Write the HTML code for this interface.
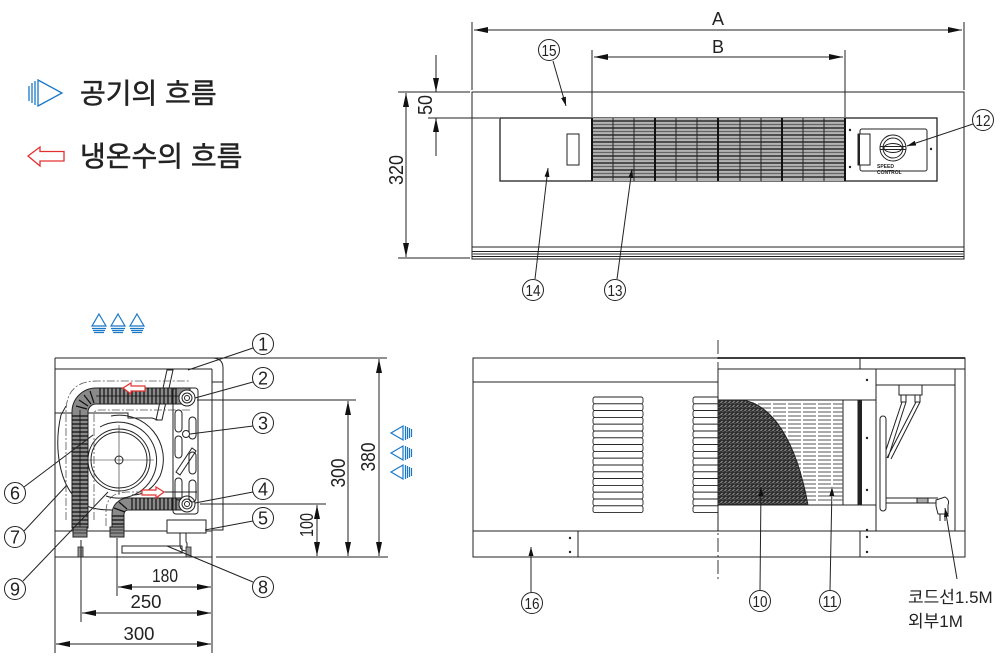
<!DOCTYPE html>
<html><head><meta charset="utf-8"><style>
html,body{margin:0;padding:0;background:#fff;}
svg{display:block;}
text{font-family:"Liberation Sans","Noto Sans CJK KR",sans-serif;fill:#222;}
</style></head><body>
<svg width="1000" height="660" viewBox="0 0 1000 660" xmlns="http://www.w3.org/2000/svg">
<defs>
<marker id="ar" markerWidth="14" markerHeight="6" refX="14" refY="3" orient="auto-start-reverse" markerUnits="userSpaceOnUse"><path d="M0,0 L14,3 L0,6 Z" fill="#111"/></marker>
<marker id="la" markerWidth="9" markerHeight="5" refX="9" refY="2.5" orient="auto" markerUnits="userSpaceOnUse"><path d="M0,0 L9,2.5 L0,5 Z" fill="#111"/></marker>
<pattern id="hx" width="4" height="4" patternUnits="userSpaceOnUse"><rect width="4" height="4" fill="#2e2e2e"/><path d="M0.5,3 L2.5,1" stroke="#bbb" stroke-width="0.8"/><path d="M2.5,4 L3.5,3" stroke="#888" stroke-width="0.6"/></pattern>
</defs>

<!-- ===== Legend ===== -->
<g stroke="#1a78c8" stroke-width="1.3" fill="none">
<line x1="29" y1="86" x2="29" y2="101"/><line x1="32" y1="83" x2="32" y2="103"/><line x1="35" y1="81" x2="35" y2="105"/>
<path d="M38,80 L62,93 L38,106 Z"/>
</g>
<text x="80" y="103" font-size="28" stroke="#222" stroke-width="0.5">공기의 흐름</text>
<path d="M28,156 L40,147 L40,151.5 L64,151.5 L64,161 L40,161 L40,166 Z" fill="none" stroke="#e53030" stroke-width="1.3"/>
<text x="80" y="166" font-size="28" stroke="#222" stroke-width="0.5">냉온수의 흐름</text>

<!-- ===== Top view ===== -->
<g stroke="#222" stroke-width="1" fill="none">
<line x1="472" y1="22" x2="472" y2="90"/>
<line x1="964" y1="22" x2="964" y2="90"/>
<line x1="474" y1="30" x2="962" y2="30" marker-start="url(#ar)" marker-end="url(#ar)"/>
<line x1="592" y1="50" x2="592" y2="117"/>
<line x1="845" y1="50" x2="845" y2="117"/>
<line x1="594" y1="57" x2="843" y2="57" marker-start="url(#ar)" marker-end="url(#ar)"/>
<line x1="398" y1="92" x2="470" y2="92"/>
<line x1="398" y1="258" x2="470" y2="258"/>
<line x1="406" y1="93" x2="406" y2="257" marker-start="url(#ar)" marker-end="url(#ar)"/>
<line x1="436" y1="55" x2="436" y2="92" marker-end="url(#ar)"/>
<line x1="436" y1="156" x2="436" y2="118" marker-end="url(#ar)"/>
<line x1="428" y1="118" x2="499" y2="118"/>
<path d="M472,92 H964 V259 H472 Z"/>
<line x1="472" y1="247" x2="964" y2="247"/>
<line x1="472" y1="251.5" x2="964" y2="251.5"/>
<line x1="472" y1="254" x2="964" y2="254" stroke="#777" stroke-width="1.6"/>
<line x1="472" y1="256.5" x2="964" y2="256.5"/>
<rect x="500" y="118" width="437" height="63" stroke-width="1.3"/>
<rect x="567" y="134" width="12" height="31"/>
</g>
<!-- grille -->
<g>
<rect x="592" y="118" width="253" height="63" fill="#b4b4b4"/>
<g stroke-width="1.2">
<line x1="592" x2="845" y1="121" y2="121" stroke="#111"/>
<line x1="592" x2="845" y1="124.5" y2="124.5" stroke="#666"/>
<line x1="592" x2="845" y1="128" y2="128" stroke="#111"/>
<line x1="592" x2="845" y1="131.5" y2="131.5" stroke="#666"/>
<line x1="592" x2="845" y1="135" y2="135" stroke="#111"/>
<line x1="592" x2="845" y1="138.5" y2="138.5" stroke="#666"/>
<line x1="592" x2="845" y1="142" y2="142" stroke="#111"/>
<line x1="592" x2="845" y1="145.5" y2="145.5" stroke="#666"/>
<line x1="592" x2="845" y1="149" y2="149" stroke="#111"/>
<line x1="592" x2="845" y1="152.5" y2="152.5" stroke="#666"/>
<line x1="592" x2="845" y1="156" y2="156" stroke="#111"/>
<line x1="592" x2="845" y1="159.5" y2="159.5" stroke="#666"/>
<line x1="592" x2="845" y1="163" y2="163" stroke="#111"/>
<line x1="592" x2="845" y1="166.5" y2="166.5" stroke="#666"/>
<line x1="592" x2="845" y1="170" y2="170" stroke="#111"/>
<line x1="592" x2="845" y1="173.5" y2="173.5" stroke="#666"/>
<line x1="592" x2="845" y1="177" y2="177" stroke="#111"/>
</g>
<g stroke="#222" stroke-width="1">
<line x1="613" y1="118" x2="613" y2="181"/><line x1="634" y1="118" x2="634" y2="181"/>
<line x1="676" y1="118" x2="676" y2="181"/><line x1="697" y1="118" x2="697" y2="181"/>
<line x1="740" y1="118" x2="740" y2="181"/><line x1="761" y1="118" x2="761" y2="181"/>
<line x1="803" y1="118" x2="803" y2="181"/><line x1="824" y1="118" x2="824" y2="181"/>
</g>
<g stroke="#111" stroke-width="2">
<line x1="592" y1="118" x2="592" y2="181"/><line x1="655" y1="118" x2="655" y2="181"/>
<line x1="718" y1="118" x2="718" y2="181"/><line x1="782" y1="118" x2="782" y2="181"/>
<line x1="845" y1="118" x2="845" y2="181"/>
</g>
</g>
<!-- control -->
<g stroke="#222" stroke-width="1" fill="none">
<rect x="860" y="129" width="67" height="42" rx="2"/>
<rect x="858" y="134" width="12" height="31" fill="#fff"/>
<line x1="859" y1="134" x2="859" y2="165" stroke-width="2"/>
<circle cx="893" cy="148" r="13"/>
<circle cx="893" cy="148" r="10"/>
<ellipse cx="893" cy="148" rx="9" ry="4.5"/>
<line x1="880" y1="146.5" x2="906" y2="146.5"/>
<line x1="880" y1="149.5" x2="906" y2="149.5"/>
</g>
<g fill="#222"><circle cx="850" cy="130" r="1.2"/><circle cx="850" cy="167" r="1.2"/><circle cx="931" cy="149" r="1.2"/></g>
<text x="877" y="168" font-size="5" font-weight="bold">SPEED</text>
<text x="877" y="174" font-size="5" font-weight="bold">CONTROL</text>
<g stroke="#222" stroke-width="1" fill="none">
<line x1="553" y1="61" x2="566" y2="106" marker-end="url(#la)"/>
<line x1="535" y1="279" x2="548" y2="168" marker-end="url(#la)"/>
<line x1="617" y1="279" x2="632" y2="169" marker-end="url(#la)"/>
<line x1="973" y1="124" x2="907" y2="146" marker-end="url(#la)"/>
</g>
<text x="718" y="25" font-size="18" text-anchor="middle">A</text>
<text x="718" y="53" font-size="18" text-anchor="middle">B</text>
<text transform="translate(403,170) rotate(-90)" font-size="20" text-anchor="middle" textLength="30" lengthAdjust="spacingAndGlyphs">320</text>
<text transform="translate(432,105) rotate(-90)" font-size="20" text-anchor="middle" textLength="20" lengthAdjust="spacingAndGlyphs">50</text>

<!-- ===== Side view ===== -->
<g stroke="#1a78c8" stroke-width="1.2" fill="none">
<path d="M99,314 L106,326 L92,326 Z"/><path d="M118,314 L125,326 L111,326 Z"/><path d="M137,314 L144,326 L130,326 Z"/>
<path d="M92,328.5 H106 M93,330.5 H105 M94,332.5 H104"/>
<path d="M111,328.5 H125 M112,330.5 H124 M113,332.5 H123"/>
<path d="M130,328.5 H144 M131,330.5 H143 M132,332.5 H142"/>
</g>
<g stroke="#1a78c8" stroke-width="1.2" fill="none">
<path d="M391,433 L403,426 L403,440 Z"/><path d="M391,453 L403,446 L403,460 Z"/><path d="M391,472 L403,465 L403,479 Z"/>
<path d="M405.5,426 V440 M407.5,427 V439 M409.5,428 V438 M411.5,429 V437"/>
<path d="M405.5,446 V460 M407.5,447 V459 M409.5,448 V458 M411.5,449 V457"/>
<path d="M405.5,465 V479 M407.5,466 V478 M409.5,467 V477 M411.5,468 V476"/>
</g>
<g stroke="#222" stroke-width="1" fill="none">
<line x1="55" y1="358" x2="387" y2="358"/>
<line x1="55" y1="358" x2="55" y2="557"/>
<path d="M212,358 Q223,358 223,368 V530 H212"/>
<line x1="55" y1="369" x2="212" y2="369"/>
<line x1="212" y1="369" x2="212" y2="557"/>
<line x1="212" y1="382" x2="223" y2="382"/>
<line x1="55" y1="557" x2="212" y2="557"/>
<line x1="216" y1="557" x2="388" y2="557"/>
<line x1="55" y1="531" x2="212" y2="531"/>
<path d="M55,413 H128 V418 H152 L158,420"/>
<path d="M167,370 L173,370 L162,420 L156,420 Z"/>
<path d="M66,406 L61,415 C54,445 58,485 80,502 C88,508 98,510 112,510"/>
<circle cx="119" cy="460" r="31"/>
<circle cx="119" cy="460" r="28"/>
<circle cx="119" cy="460" r="4"/>
<line x1="84" y1="460" x2="154" y2="460" stroke-width="0.6"/>
<line x1="119" y1="425" x2="119" y2="495" stroke-width="0.6"/>
<path d="M100,427 A38,38 0 1 1 106,496"/>
<path d="M111,416 A44,44 0 0 1 160,476 Q150,495 132,495"/>
<line x1="150" y1="492" x2="197" y2="492"/>
<path d="M66,520 V412 Q66,381 97,381 H190" stroke="#555" stroke-dasharray="8,2,2,2" stroke-width="0.8"/>
<path d="M94,520 V414 Q94,410 100,410 H190" stroke="#555" stroke-dasharray="8,2,2,2" stroke-width="0.8"/>
<path d="M106,526 V512 Q106,492 128,492 H150" stroke="#555" stroke-dasharray="8,2,2,2" stroke-width="0.8"/>
</g>
<g fill="#8a8a8a" stroke="#222" stroke-width="1">
<path d="M72,528 V412 A24,24 0 0 1 96,388 H190 V404 H96 A8,8 0 0 0 88,412 V528 Z"/>
<path d="M112,528 V514 A16,16 0 0 1 128,498 H190 V510 H128 A4,4 0 0 0 124,514 V528 Z"/>
</g>
<g stroke="#111" stroke-width="1.2">
<path d="M72,416 H88 M72,420 H88 M72,424 H88 M72,428 H88 M72,432 H88 M72,436 H88 M72,440 H88 M72,444 H88 M72,448 H88 M72,452 H88 M72,456 H88 M72,460 H88 M72,464 H88 M72,468 H88 M72,472 H88 M72,476 H88 M72,480 H88 M72,484 H88 M72,488 H88 M72,492 H88 M72,496 H88 M72,500 H88 M72,504 H88 M72,508 H88 M72,512 H88 M72,516 H88 M72,520 H88 M72,524 H88"/>
<path d="M80,410 V528" stroke-width="0.8"/>
<path d="M100,388 V404 M104,388 V404 M108,388 V404 M112,388 V404 M116,388 V404 M120,388 V404 M124,388 V404 M128,388 V404 M132,388 V404 M136,388 V404 M140,388 V404 M144,388 V404 M148,388 V404 M152,388 V404 M156,388 V404 M160,388 V404 M164,388 V404 M168,388 V404 M172,388 V404 M176,388 V404"/>
<path d="M96,396 H180" stroke-width="0.8"/>
<path d="M76,406 L87,409 M79,400 L88,406 M84,395 L91,404 M90,391 L94,403"/>
<path d="M132,498 V510 M136,498 V510 M140,498 V510 M144,498 V510 M148,498 V510 M152,498 V510 M156,498 V510 M160,498 V510 M164,498 V510 M168,498 V510 M172,498 V510 M176,498 V510"/>
<path d="M112,516 H124 M112,520 H124 M112,524 H124 M114,508 L125,512 M119,502 L127,509"/>
</g>
<g fill="#fff" stroke="#222" stroke-width="1">
<circle cx="187" cy="398" r="8"/><circle cx="187" cy="398" r="5"/><circle cx="187" cy="398" r="2.5"/>
<circle cx="187" cy="504" r="8"/><circle cx="187" cy="504" r="5"/><circle cx="187" cy="504" r="2.5"/>
</g>
<g fill="#888" stroke="#222" stroke-width="1">
<rect x="73" y="527" width="14" height="10"/><rect x="110" y="527" width="14" height="10"/>
</g>
<g stroke="#222" stroke-width="0.8"><path d="M73,530 H87 M73,533 H87 M110,530 H124 M110,533 H124"/></g>
<g stroke="#222" stroke-width="1" fill="none">
<rect x="173" y="388" width="25" height="126" rx="3"/>
<rect x="175" y="410" width="7" height="22" rx="3.5"/>
<rect x="175" y="436" width="7" height="22" rx="3.5"/>
<rect x="175" y="478" width="7" height="22" rx="3.5"/>
<rect x="189" y="417" width="7" height="22" rx="3.5"/>
<rect x="189" y="452" width="7" height="22" rx="3.5"/>
<rect x="189" y="480" width="7" height="22" rx="3.5"/>
<path d="M176,472 L192,448 L196,451 L180,475 Z"/>
<circle cx="186" cy="434" r="3.5" fill="#fff"/>
</g>
<g stroke="#222" stroke-width="1" fill="#fff">
<path d="M180,522 V545 Q180,551 187,551 V543 Q186,543 186,540 V522 Z"/>
<rect x="167" y="520" width="39" height="13"/>
<rect x="122" y="546" width="60" height="7" fill="none"/>
</g>
<g fill="#999" stroke="#222" stroke-width="0.8"><rect x="78" y="547" width="5" height="10"/><rect x="186" y="547" width="5" height="10"/></g>
<g fill="#fff" stroke="#e53030" stroke-width="1.2">
<path d="M123,388 L131,383 L131,386 L145,386 L145,391 L131,391 L131,394 Z"/>
<path d="M164,492 L156,487 L156,490 L142,490 L142,495 L156,495 L156,498 Z"/>
</g>
<g stroke="#222" stroke-width="1" fill="none">
<line x1="200" y1="504" x2="326" y2="504"/>
<line x1="197" y1="400" x2="356" y2="400"/>
<line x1="317" y1="505" x2="317" y2="556" marker-start="url(#ar)" marker-end="url(#ar)"/>
<line x1="348" y1="401" x2="348" y2="556" marker-start="url(#ar)" marker-end="url(#ar)"/>
<line x1="379" y1="359" x2="379" y2="556" marker-start="url(#ar)" marker-end="url(#ar)"/>
<line x1="117" y1="538" x2="117" y2="596"/>
<line x1="81" y1="540" x2="81" y2="622"/>
<line x1="55" y1="557" x2="55" y2="653"/>
<line x1="212" y1="557" x2="212" y2="653"/>
<line x1="118" y1="587" x2="211" y2="587" marker-start="url(#ar)" marker-end="url(#ar)"/>
<line x1="82" y1="613" x2="211" y2="613" marker-start="url(#ar)" marker-end="url(#ar)"/>
<line x1="56" y1="644" x2="211" y2="644" marker-start="url(#ar)" marker-end="url(#ar)"/>
<line x1="253" y1="348" x2="188" y2="370"/>
<line x1="253" y1="382" x2="195" y2="398"/>
<line x1="253" y1="426" x2="190" y2="434"/>
<line x1="253" y1="492" x2="195" y2="503"/>
<line x1="253" y1="521" x2="205" y2="530"/>
<line x1="253" y1="582" x2="167" y2="546"/>
<line x1="24" y1="487" x2="93" y2="435"/>
<line x1="24" y1="531" x2="67" y2="485"/>
<line x1="23" y1="581" x2="108" y2="492"/>
</g>
<text x="165" y="582" font-size="18" text-anchor="middle" textLength="26" lengthAdjust="spacingAndGlyphs">180</text>
<text x="146" y="608" font-size="18" text-anchor="middle" textLength="31" lengthAdjust="spacingAndGlyphs">250</text>
<text x="139" y="640" font-size="18" text-anchor="middle" textLength="31" lengthAdjust="spacingAndGlyphs">300</text>
<text transform="translate(313,525) rotate(-90)" font-size="18" text-anchor="middle" textLength="24" lengthAdjust="spacingAndGlyphs">100</text>
<text transform="translate(345,473) rotate(-90)" font-size="20" text-anchor="middle" textLength="29" lengthAdjust="spacingAndGlyphs">300</text>
<text transform="translate(375,457) rotate(-90)" font-size="20" text-anchor="middle" textLength="29" lengthAdjust="spacingAndGlyphs">380</text>

<!-- ===== Front view ===== -->
<g stroke="#222" stroke-width="1" fill="none">
<rect x="473" y="358" width="492" height="199"/>
<line x1="473" y1="382" x2="718" y2="382"/>
<line x1="473" y1="531" x2="965" y2="531"/>
<line x1="578" y1="531" x2="578" y2="557"/>
<line x1="718" y1="358" x2="965" y2="358" stroke-width="1.8"/>
<line x1="718" y1="369" x2="965" y2="369"/>
<line x1="860" y1="358" x2="860" y2="369"/>
<line x1="860" y1="531" x2="860" y2="557"/>
<line x1="718" y1="400" x2="876" y2="400"/>
<line x1="718" y1="505" x2="876" y2="505"/>
<line x1="876" y1="369" x2="876" y2="531"/>
<line x1="876" y1="385" x2="955" y2="385"/>
<line x1="955" y1="369" x2="955" y2="531"/>
<rect x="843" y="400" width="15" height="105"/>
</g>
<rect x="858" y="400" width="4" height="105" fill="#222"/>
<g stroke="#222" stroke-width="0.9" fill="#fff">
<rect x="593" y="397" width="50" height="6.8" rx="2"/><rect x="593" y="403.8" width="50" height="6.8" rx="2"/><rect x="593" y="410.6" width="50" height="6.8" rx="2"/><rect x="593" y="417.4" width="50" height="6.8" rx="2"/><rect x="593" y="424.2" width="50" height="6.8" rx="2"/><rect x="593" y="431" width="50" height="6.8" rx="2"/><rect x="593" y="437.8" width="50" height="6.8" rx="2"/><rect x="593" y="444.6" width="50" height="6.8" rx="2"/><rect x="593" y="451.4" width="50" height="6.8" rx="2"/><rect x="593" y="458.2" width="50" height="6.8" rx="2"/><rect x="593" y="465" width="50" height="6.8" rx="2"/><rect x="593" y="471.8" width="50" height="6.8" rx="2"/><rect x="593" y="478.6" width="50" height="6.8" rx="2"/><rect x="593" y="485.4" width="50" height="6.8" rx="2"/><rect x="593" y="492.2" width="50" height="6.8" rx="2"/><rect x="593" y="499" width="50" height="6.8" rx="2"/><rect x="593" y="505.8" width="50" height="6.8" rx="2"/>
<rect x="693" y="397" width="40" height="6.8" rx="2"/><rect x="693" y="403.8" width="40" height="6.8" rx="2"/><rect x="693" y="410.6" width="40" height="6.8" rx="2"/><rect x="693" y="417.4" width="40" height="6.8" rx="2"/><rect x="693" y="424.2" width="40" height="6.8" rx="2"/><rect x="693" y="431" width="40" height="6.8" rx="2"/><rect x="693" y="437.8" width="40" height="6.8" rx="2"/><rect x="693" y="444.6" width="40" height="6.8" rx="2"/><rect x="693" y="451.4" width="40" height="6.8" rx="2"/><rect x="693" y="458.2" width="40" height="6.8" rx="2"/><rect x="693" y="465" width="40" height="6.8" rx="2"/><rect x="693" y="471.8" width="40" height="6.8" rx="2"/><rect x="693" y="478.6" width="40" height="6.8" rx="2"/><rect x="693" y="485.4" width="40" height="6.8" rx="2"/><rect x="693" y="492.2" width="40" height="6.8" rx="2"/><rect x="693" y="499" width="40" height="6.8" rx="2"/><rect x="693" y="505.8" width="40" height="6.8" rx="2"/>
</g>
<rect x="718.5" y="370" width="157" height="29.5" fill="#fff"/>
<rect x="718.5" y="400.5" width="124" height="104" fill="#fff"/>
<rect x="718.5" y="505.5" width="157" height="25" fill="#fff"/>
<line x1="718" y1="369" x2="718" y2="531" stroke="#222" stroke-width="1"/>
<g stroke="#555" stroke-width="1.1" stroke-dasharray="13,2">
<path d="M743,404 H843 M743,408 H843 M743,412 H843 M743,416 H843 M743,420 H843 M743,424 H843 M743,428 H843 M743,432 H843 M743,436 H843 M743,440 H843 M743,444 H843 M743,448 H843 M743,452 H843 M743,456 H843 M743,460 H843 M743,464 H843 M743,468 H843 M743,472 H843 M743,476 H843 M743,480 H843 M743,484 H843 M743,488 H843 M743,492 H843 M743,496 H843 M743,500 H843"/>
</g>
<path d="M718,400 H742 C772,404 796,440 808,505 H718 Z" fill="url(#hx)" stroke="#222" stroke-width="1"/>
<line x1="718" y1="340" x2="718" y2="582" stroke="#222" stroke-width="0.9" stroke-dasharray="14,3,2,3"/>
<g fill="#222">
<circle cx="570" cy="538" r="1.2"/><circle cx="570" cy="552" r="1.2"/>
<circle cx="867" cy="380" r="1.2"/><circle cx="867" cy="438" r="1.2"/><circle cx="867" cy="490" r="1.2"/>
<circle cx="867" cy="530" r="1.2"/><circle cx="867" cy="537" r="1.2"/><circle cx="867" cy="552" r="1.2"/>
</g>
<g stroke="#222" stroke-width="1" fill="#fff">
<rect x="899" y="385" width="23" height="10"/>
<rect x="901" y="395" width="5" height="7"/><rect x="915" y="395" width="5" height="7"/>
<path d="M902,402 L884,456 M906,402 L888,458 M916,402 L887,458 M920,402 L891,459"/>
<rect x="880" y="416" width="6" height="95" rx="3"/>
<path d="M886,498 H938 M886,503 H938"/>
<rect x="917" y="498" width="11" height="5" fill="#aaa"/>
<path d="M936,500 L945,497 Q950,500 948,505 L948,514 L938,514 L936,506 Z"/>
<path d="M940,514 V521 M945,514 V521"/>
</g>
<g stroke="#222" stroke-width="1" fill="none">
<line x1="531" y1="592" x2="531" y2="547" marker-end="url(#la)"/>
<line x1="760" y1="590" x2="761" y2="487" marker-end="url(#la)"/>
<line x1="830" y1="590" x2="832" y2="487" marker-end="url(#la)"/>
<line x1="957" y1="579" x2="945" y2="508" marker-end="url(#la)"/>
</g>
<text x="908" y="603" font-size="17">코드선1.5M</text>
<text x="908" y="627" font-size="17">외부1M</text>

<g stroke="#222" stroke-width="1" fill="#fff">
<circle cx="549" cy="50" r="10.5"/><circle cx="983" cy="120" r="10.5"/><circle cx="533" cy="290" r="10.5"/><circle cx="615" cy="290" r="10.5"/>
<circle cx="263" cy="344" r="10.5"/><circle cx="263" cy="378" r="10.5"/><circle cx="263" cy="423" r="10.5"/><circle cx="263" cy="489" r="10.5"/><circle cx="263" cy="518" r="10.5"/><circle cx="263" cy="587" r="10.5"/>
<circle cx="15" cy="493" r="10.5"/><circle cx="15" cy="537" r="10.5"/><circle cx="15" cy="589" r="10.5"/>
<circle cx="532" cy="603" r="10.5"/><circle cx="760" cy="601" r="10.5"/><circle cx="830" cy="601" r="10.5"/>
</g>
<g font-size="18" text-anchor="middle">
<text x="263" y="350.5">1</text><text x="263" y="384.5">2</text><text x="263" y="429.5">3</text><text x="263" y="495.5">4</text><text x="263" y="524.5">5</text><text x="263" y="593.5">8</text>
<text x="15" y="499.5">6</text><text x="15" y="543.5">7</text><text x="15" y="595.5">9</text>
</g>
<g font-size="16" text-anchor="middle">
<text x="549" y="56" textLength="15" lengthAdjust="spacingAndGlyphs">15</text>
<text x="983" y="126" textLength="15" lengthAdjust="spacingAndGlyphs">12</text>
<text x="533" y="296" textLength="15" lengthAdjust="spacingAndGlyphs">14</text>
<text x="615" y="296" textLength="15" lengthAdjust="spacingAndGlyphs">13</text>
<text x="532" y="609" textLength="15" lengthAdjust="spacingAndGlyphs">16</text>
<text x="760" y="607" textLength="15" lengthAdjust="spacingAndGlyphs">10</text>
<text x="830" y="607" textLength="15" lengthAdjust="spacingAndGlyphs">11</text>
</g>
</svg>
</body></html>
